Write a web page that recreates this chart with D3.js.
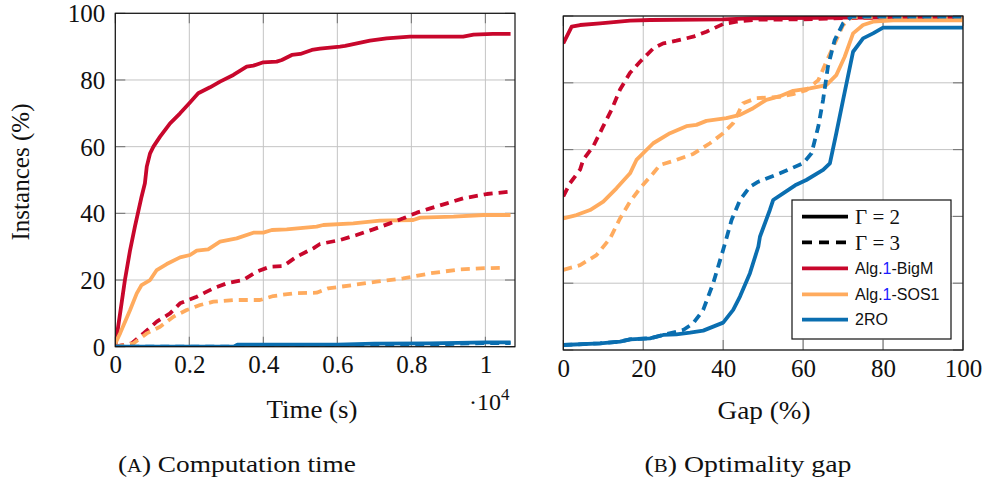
<!DOCTYPE html>
<html>
<head>
<meta charset="utf-8">
<script src="https://cdn.jsdelivr.net/npm/d3@7"></script>
<style>
html,body{margin:0;padding:0;background:#fff;}
svg{display:block;}
</style>
</head>
<body>
<svg id="chart" width="986" height="481"></svg>
<script>
// ---------- DATA ----------
// Left panel: computation time (x in 10^4 s), y = instances solved (%)
const timeTicks = [0, 0.2, 0.4, 0.6, 0.8, 1];
const pctTicks = [0, 20, 40, 60, 80, 100];
const gapTicks = [0, 20, 40, 60, 80, 100];

const timeBigM2 = [[0,0],[0.001,1],[0.013,10],[0.026,20],[0.04,29],[0.053,36],[0.071,45],[0.08,49],[0.085,54],[0.094,58],[0.103,60],[0.121,63],[0.148,67],[0.175,70],[0.2,73],[0.224,76],[0.256,77.8],[0.283,79.5],[0.319,81.5],[0.355,84],[0.373,84.3],[0.4,85.3],[0.436,85.5],[0.45,86],[0.477,87.5],[0.5,87.8],[0.531,89],[0.553,89.4],[0.607,90],[0.621,90.2],[0.688,91.8],[0.733,92.5],[0.796,93],[0.94,93],[0.968,93.6],[1.02,93.8],[1.068,93.8]];
const timeBigM3 = [[0,0],[0.044,1],[0.076,4],[0.112,7.5],[0.148,10],[0.175,13],[0.22,15],[0.265,17.5],[0.301,19],[0.346,20],[0.382,22.5],[0.418,24],[0.454,24.2],[0.49,27],[0.535,29.5],[0.553,30.8],[0.607,32],[0.652,33.5],[0.697,35.2],[0.742,37],[0.778,38.5],[0.815,40.2],[0.851,41.5],[0.896,43],[0.94,44.5],[1.004,45.8],[1.068,46.5]];
const timeSOS2 = [[0,1],[0.013,4],[0.04,11],[0.058,16],[0.071,18.5],[0.094,20],[0.112,23],[0.139,24.8],[0.175,26.8],[0.202,27.5],[0.22,28.8],[0.251,29.2],[0.283,31.5],[0.328,32.5],[0.373,34.2],[0.4,34.2],[0.423,35],[0.463,35.2],[0.544,36],[0.562,36.5],[0.643,37],[0.715,37.8],[0.805,38],[0.824,38.7],[0.914,39],[0.995,39.5],[1.068,39.5]];
const timeSOS3 = [[0,0],[0.049,1],[0.085,4],[0.121,6],[0.157,9],[0.193,11],[0.229,12.5],[0.265,13.5],[0.319,14],[0.391,14],[0.427,15.2],[0.481,16],[0.544,16.2],[0.575,17.5],[0.643,18.5],[0.706,19.5],[0.778,20.5],[0.851,22],[0.932,23.2],[0.986,23.5],[1.05,23.7]];
const time2RO2 = [[0,0],[0.32,0],[0.33,0.6],[0.6,0.6],[0.7,0.9],[0.85,1],[1.0,1.3],[1.068,1.3]];
const time2RO3 = [[0,0],[0.33,0],[0.36,0.3],[0.62,0.4],[0.72,0.7],[0.9,0.8],[1.0,1.1],[1.068,1.1]];

// Right panel: optimality gap (%), y = instances (%)
const gapBigM2 = [[0,91.8],[2.1,96.8],[4.2,97.3],[9.2,97.8],[16.7,98.6],[21.7,98.8],[40,99],[46.7,99.3],[70,99.5],[100,99.5]];
const gapBigM3 = [[0,46],[1.7,50],[4.2,54],[5,57],[7.5,61],[10,67],[12.1,72],[14.2,78],[16.7,83],[19.2,86.3],[22.5,90.3],[25,91.8],[28.3,92.6],[32.5,93.8],[35.8,95.3],[40,97.6],[43.3,98.3],[48.3,98.9],[60,99],[70,99.4],[100,99.5]];
const gapSOS2 = [[0,39.4],[3.3,40.4],[6.7,41.9],[10,44.4],[13.3,48.4],[16.7,52.9],[18.3,56.9],[22.5,61.9],[26.7,64.9],[30.8,67],[33.3,67.4],[35.8,68.6],[40.8,69.4],[44.2,70.4],[47.5,72.4],[50.8,74.9],[54.2,76],[57.5,77.6],[61.7,78.3],[65.8,79.3],[68.3,82.3],[70.4,87.8],[72.5,94.8],[75,97.3],[77.5,98.3],[82.5,98.7],[100,98.7]];
const gapSOS3 = [[0,24],[4.2,25.4],[8.3,28.4],[11.7,33.4],[14.2,39.4],[16.7,44.4],[19.2,48.4],[22.5,52.9],[24.2,55.4],[28.3,56.9],[32.5,58.7],[36.7,61.9],[40,64.9],[42.5,67.9],[45,73.9],[48.3,75.4],[54.2,75.8],[57.5,76.6],[60.8,77.8],[63.8,80.8],[65.8,86.3],[67.9,91.8],[70,97.3],[72.1,99.6],[100,99.7]];
const gap2RO2 = [[0,1.5],[9.2,2],[14.2,2.5],[16.7,3.2],[21.7,3.5],[25,4.5],[28.3,4.7],[31.7,5.2],[35,5.8],[37.5,7],[40,8.2],[42.5,12],[44.2,16],[46.7,23],[48.8,31],[49.2,33.9],[51.7,42],[52.5,44.9],[55,46.9],[58,49.3],[60.8,50.9],[65,53.9],[66.7,55.9],[68.3,64.9],[70,74.9],[72.5,89.3],[75,93.3],[77.5,94.8],[80,96.5],[100,96.5]];
const gap2RO3 = [[0,1.5],[9.2,2],[14.2,2.5],[16.7,3.2],[21.7,3.5],[25,4.5],[30,6],[32.5,8],[35,12],[37.5,20],[40,30],[42.1,38.9],[44.2,44.9],[46.7,48.9],[48.8,50.4],[54.2,52.9],[60,55.9],[62.1,58.9],[63.8,66.9],[65,74.9],[66.2,84.8],[67.9,92.8],[70,97.8],[72.1,99.8],[100,99.8]];

const colorBigM = "#c8072c";
const colorSOS = "#ffab5e";
const color2RO = "#0a6eb0";

const legendStyles = ["Γ = 2", "Γ = 3"];
const legendAlgs = ["Alg.1-BigM", "Alg.1-SOS1", "2RO"];

// ---------- DRAWING ----------
const svg = d3.select("#chart");
const serif = "'Liberation Serif', 'Times New Roman', serif";
const sans = "'Liberation Sans', Arial, sans-serif";
const LW = 3.8;
const DASH = "9,6";

function panel(opts) {
  const {id, x0, x1, y0, y1, xDomain, xTicks, xFmt, yTickLabels, series} = opts;
  const x = d3.scaleLinear().domain(xDomain).range([x0, x1]);
  const y = d3.scaleLinear().domain([0, 100]).range([y1, y0]);
  const g = svg.append("g");

  // grid
  g.append("g").selectAll("line.vx").data(xTicks).join("line")
    .attr("x1", d => x(d)).attr("x2", d => x(d)).attr("y1", y0).attr("y2", y1)
    .attr("stroke", "#c4c4c4").attr("stroke-width", 1);
  g.append("g").selectAll("line.hy").data(pctTicks).join("line")
    .attr("x1", x0).attr("x2", x1).attr("y1", d => y(d)).attr("y2", d => y(d))
    .attr("stroke", "#c4c4c4").attr("stroke-width", 1);

  // tick marks inside on all sides
  const tk = 10, tc = "#777";
  const tg = g.append("g").attr("stroke", tc).attr("stroke-width", 1.1);
  xTicks.forEach(d => {
    tg.append("line").attr("x1", x(d)).attr("x2", x(d)).attr("y1", y1).attr("y2", y1 - tk);
    tg.append("line").attr("x1", x(d)).attr("x2", x(d)).attr("y1", y0).attr("y2", y0 + tk);
  });
  pctTicks.forEach(d => {
    tg.append("line").attr("x1", x0).attr("x2", x0 + tk).attr("y1", y(d)).attr("y2", y(d));
    tg.append("line").attr("x1", x1).attr("x2", x1 - tk).attr("y1", y(d)).attr("y2", y(d));
  });

  // clip
  svg.append("clipPath").attr("id", id).append("rect")
    .attr("x", x0).attr("y", y0).attr("width", x1 - x0).attr("height", y1 - y0);
  const line = d3.line().x(d => x(d[0])).y(d => y(d[1])).curve(d3.curveLinear);
  const lg = g.append("g").attr("clip-path", `url(#${id})`);
  series.forEach(s => {
    lg.append("path").datum(s.data).attr("d", line)
      .attr("fill", "none").attr("stroke", s.color).attr("stroke-width", LW)
      .attr("stroke-linejoin", "round")
      .attr("stroke-dasharray", s.dashed ? DASH : null);
  });

  // frame
  g.append("rect").attr("x", x0).attr("y", y0).attr("width", x1 - x0).attr("height", y1 - y0)
    .attr("fill", "none").attr("stroke", "#111").attr("stroke-width", 1.2);

  // axes (labels only)
  const ax = d3.axisBottom(x).tickValues(xTicks).tickFormat(xFmt).tickSize(0).tickPadding(0);
  const axg = g.append("g").attr("transform", `translate(0,${y1 + 7})`).call(ax);
  axg.select(".domain").remove();
  axg.selectAll("text").attr("font-family", serif).attr("font-size", 25).attr("fill", "#111")
    .attr("dy", "0.78em");
  if (yTickLabels) {
    const ay = d3.axisLeft(y).tickValues(pctTicks).tickFormat(d3.format("d")).tickSize(0).tickPadding(0);
    const ayg = g.append("g").attr("transform", `translate(${x0 - 10},0)`).call(ay);
    ayg.select(".domain").remove();
    ayg.selectAll("text").attr("font-family", serif).attr("font-size", 25).attr("fill", "#111")
      .attr("dy", "0.34em");
  }
  return {x, y};
}

panel({
  id: "clipL", x0: 115.3, x1: 515, y0: 13.3, y1: 346.7, xDomain: [0, 1.08],
  xTicks: timeTicks, xFmt: d => d3.format("~g")(d), yTickLabels: true,
  series: [
    {data: timeBigM2, color: colorBigM},
    {data: timeSOS2, color: colorSOS},
    {data: timeBigM3, color: colorBigM, dashed: true},
    {data: timeSOS3, color: colorSOS, dashed: true},
    {data: time2RO3, color: color2RO, dashed: true},
    {data: time2RO2, color: color2RO}
  ]
});

panel({
  id: "clipR", x0: 563.3, x1: 963, y0: 16, y1: 350, xDomain: [0, 100],
  xTicks: gapTicks, xFmt: d3.format("d"), yTickLabels: false,
  series: [
    {data: gapBigM2, color: colorBigM},
    {data: gapBigM3, color: colorBigM, dashed: true},
    {data: gapSOS2, color: colorSOS},
    {data: gapSOS3, color: colorSOS, dashed: true},
    {data: gap2RO2, color: color2RO},
    {data: gap2RO3, color: color2RO, dashed: true}
  ]
});

// axis titles
svg.append("text").attr("x", 312).attr("y", 418).attr("text-anchor", "middle")
  .attr("font-family", serif).attr("font-size", 25).attr("fill", "#111")
  .attr("textLength", 91).attr("lengthAdjust", "spacingAndGlyphs").text("Time (s)");
const sci = svg.append("text").attr("x", 469).attr("y", 410)
  .attr("font-family", serif).attr("font-size", 24).attr("fill", "#111");
sci.append("tspan").text("·10");
sci.append("tspan").attr("dy", -10).attr("font-size", 17).text("4");
svg.append("text").attr("x", 764).attr("y", 419).attr("text-anchor", "middle")
  .attr("font-family", serif).attr("font-size", 25).attr("fill", "#111")
  .attr("textLength", 93).attr("lengthAdjust", "spacingAndGlyphs").text("Gap (%)");
svg.append("text").attr("transform", "translate(29,172) rotate(-90)").attr("text-anchor", "middle")
  .attr("font-family", serif).attr("font-size", 25).attr("fill", "#111")
  .attr("textLength", 137).attr("lengthAdjust", "spacingAndGlyphs").text("Instances (%)");

// captions
function caption(xc, w, letter, rest) {
  const t = svg.append("text").attr("x", xc).attr("y", 472).attr("text-anchor", "middle")
    .attr("font-family", serif).attr("font-size", 24).attr("fill", "#111")
    .attr("textLength", w).attr("lengthAdjust", "spacingAndGlyphs");
  t.append("tspan").text("(");
  t.append("tspan").attr("font-size", 18).text(letter);
  t.append("tspan").text(") " + rest);
}
caption(237, 238, "A", "Computation time");
caption(748, 207, "B", "Optimality gap");

// legend
const lg = svg.append("g");
lg.append("rect").attr("x", 792).attr("y", 200).attr("width", 159).attr("height", 139)
  .attr("fill", "#fff").attr("stroke", "#111").attr("stroke-width", 1.2);
const rowY = [216.7, 242.3, 268.3, 294.3, 319.7];
const items = [
  {label: legendStyles[0], color: "#000", dashed: false, font: serif},
  {label: legendStyles[1], color: "#000", dashed: true, font: serif},
  {label: legendAlgs[0], color: colorBigM, dashed: false, font: sans},
  {label: legendAlgs[1], color: colorSOS, dashed: false, font: sans},
  {label: legendAlgs[2], color: color2RO, dashed: false, font: sans}
];
items.forEach((it, i) => {
  lg.append("line").attr("x1", 802).attr("x2", 848).attr("y1", rowY[i]).attr("y2", rowY[i])
    .attr("stroke", it.color).attr("stroke-width", LW)
    .attr("stroke-dasharray", it.dashed ? "10,7" : null);
  const t = lg.append("text").attr("x", 855).attr("y", rowY[i]).attr("dy", "0.35em")
    .attr("font-family", it.font).attr("font-size", it.font === serif ? 21 : 16).attr("fill", "#111");
  const m = it.label.match(/^(Alg\.)(1)(-.*)$/);
  if (m) {
    t.append("tspan").text(m[1]);
    t.append("tspan").attr("fill", "#1a1aff").text(m[2]);
    t.append("tspan").text(m[3]);
  } else {
    t.text(it.label);
  }
});
</script>
</body>
</html>
